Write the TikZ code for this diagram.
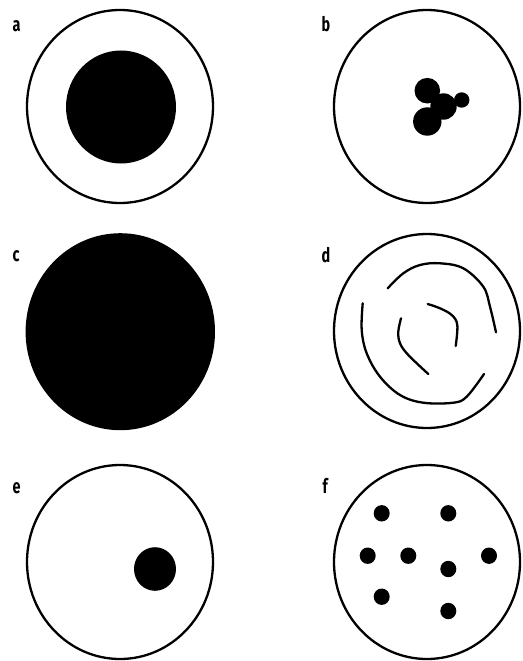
\documentclass[tikz,border=0pt]{standalone}
\usepackage{fontspec}
\setmainfont{Fira Sans}
\begin{document}
\begin{tikzpicture}[x=1pt,y=-1pt,
  ring/.style={draw=black,line width=2.3pt,fill=white},
  blob/.style={fill=black,draw=none},
  stroke/.style={draw=black,line width=2.3pt,line cap=round,line join=round},
  lbl/.style={anchor=base west,inner sep=0pt,font=\bfseries\fontsize{20}{20}\selectfont}]
\useasboundingbox (0,0) rectangle (522,661);
% labels
\node[lbl] (la) at (12.5,32) {\scalebox{0.72}[1]{a}};
\node[lbl] (lb) at (321.5,32) {\scalebox{0.72}[1]{b}};
\node[lbl] (lc) at (12.5,261) {\scalebox{0.72}[1]{c}};
\node[lbl] (ld) at (321.5,262) {\scalebox{0.72}[1]{d}};
\node[lbl] (le) at (12.5,493) {\scalebox{0.72}[1]{e}};
\node[lbl] (lf) at (322.5,493) {\scalebox{0.72}[1]{f}};
% a
\path[ring] (120,106.5) ellipse [x radius=93, y radius=96.5];
\path[blob] (121,107) ellipse [x radius=55, y radius=56.5];
% b
\path[ring] (427,106.5) ellipse [x radius=93, y radius=96.5];
\path[blob] (427.3,90.7) circle (12.8);
\path[blob] (427.3,121.5) circle (14.2);
\path[blob] (443.5,106.5) circle (13.2);
\path[blob] (461.7,100) circle (7.7);
% c
\path[blob] (120.3,331.7) ellipse [x radius=94.7, y radius=98.5];
% d
\path[ring] (427,331) ellipse [x radius=93, y radius=97];
\draw[stroke] plot[smooth,tension=0.6] coordinates {(387.7,288.3) (403.3,273.3) (420,265) (440,263.3) (463.3,268.3) (483.3,286.7) (490,306.7) (496,332.3)};
\draw[stroke] plot[smooth,tension=0.6] coordinates {(362.7,303.3) (361.7,330) (366.7,353.3) (380,376.7) (400,395) (423.3,402.7) (453.3,402.7) (466.7,396.7) (484,374)};
\draw[stroke] plot[smooth,tension=0.6] coordinates {(401,318.3) (398.3,331.7) (400,343.3) (408.3,355) (428.3,374)};
\draw[stroke] plot[smooth,tension=0.6] coordinates {(427.7,304) (440,308.3) (451.7,315) (457.3,325) (455.7,346)};
% e
\path[ring] (120,562) ellipse [x radius=93, y radius=97];
\path[blob] (155,569) ellipse [x radius=21, y radius=21.8];
% f
\path[ring] (427,562) ellipse [x radius=93, y radius=97];
\foreach \p in {(381.7,513.3),(448.3,513.3),(367.7,555.7),(408.3,555.7),(489,555.7),(448.3,569),(381.7,596.7),(448.3,611)}
  \path[blob] \p ellipse [x radius=8, y radius=8.2];
\end{tikzpicture}
\end{document}
